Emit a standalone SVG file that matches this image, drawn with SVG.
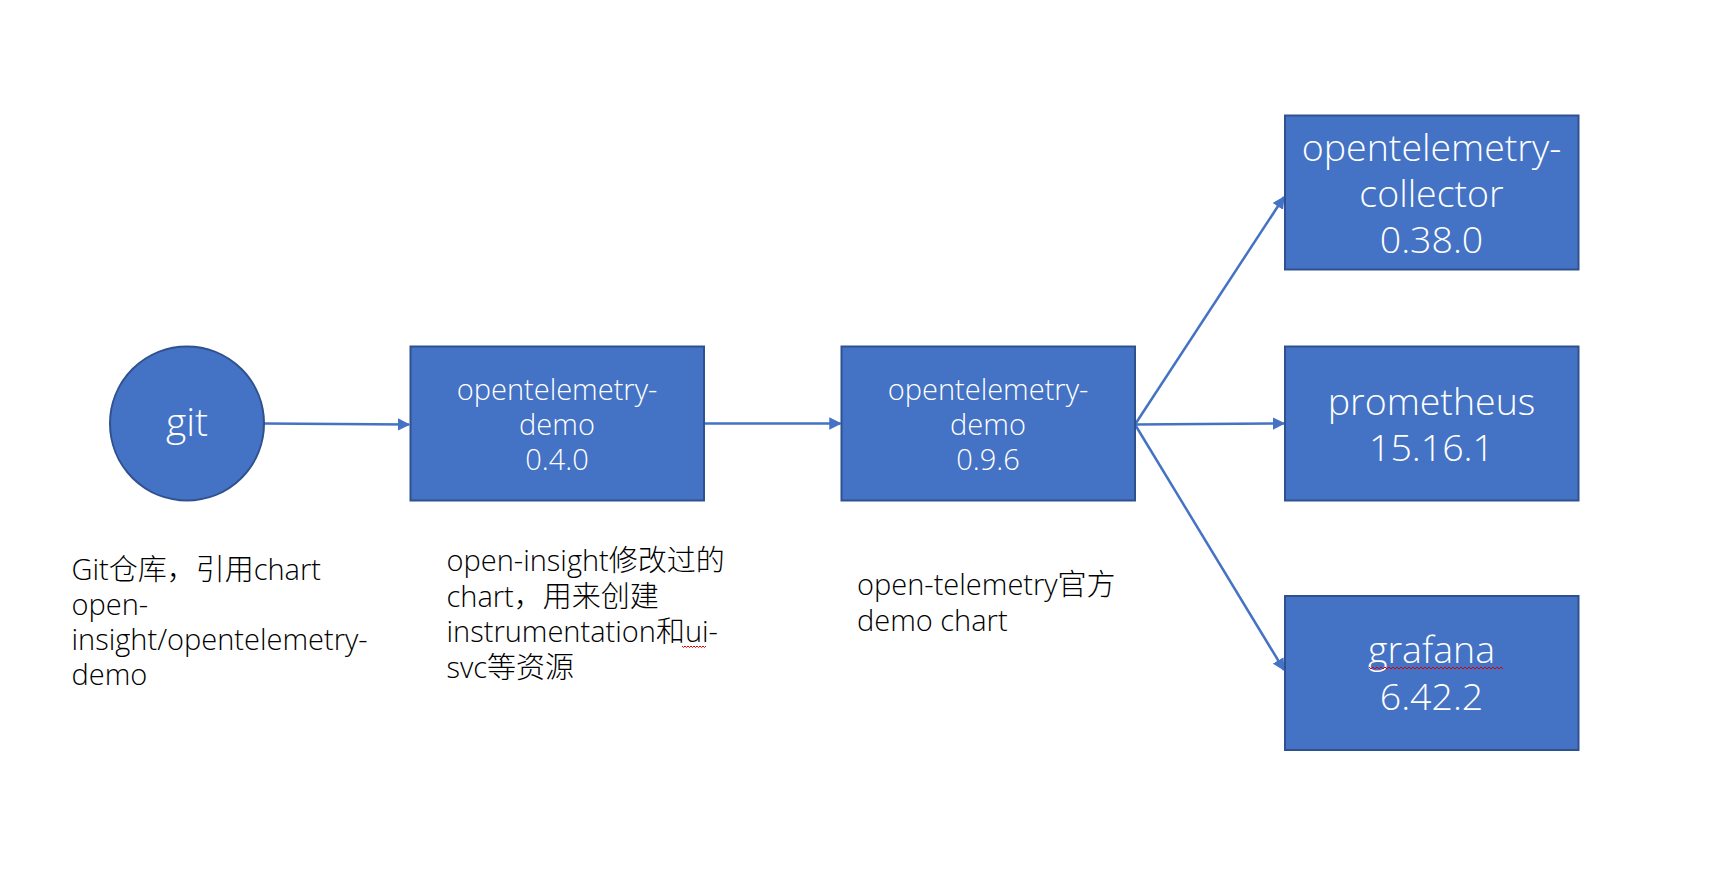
<svg xmlns="http://www.w3.org/2000/svg" width="1725" height="874" viewBox="0 0 1725 874">
<style>
.node{fill:#4472C4;stroke:#2F528F;stroke-width:2}
.lbl{fill:#ffffff;font-family:"Open Sans","Noto Sans CJK SC",sans-serif;font-weight:300;text-anchor:middle}
.s{font-size:29px}
.l{font-size:37.5px}
.cap{fill:#000000;font-family:"Open Sans","Noto Sans CJK SC",sans-serif;font-weight:300;font-size:29px}
.edge{stroke:#4472C4;stroke-width:2.5;fill:none}
.squig{stroke:#E00000;stroke-width:1;fill:none}
</style>
<defs>
<marker id="arr" viewBox="0 0 10 10" refX="9" refY="5" markerWidth="5" markerHeight="5" orient="auto" markerUnits="strokeWidth">
<path d="M0,0 L10,5 L0,10 z" fill="#4472C4"/>
</marker>
</defs>
<rect width="1725" height="874" fill="#ffffff"/>
<g id="connectors">
<line class="edge" x1="264" y1="423.5" x2="409" y2="424.5" marker-end="url(#arr)"/>
<line class="edge" x1="704" y1="423.5" x2="840.5" y2="423.5" marker-end="url(#arr)"/>
<line class="edge" x1="1135" y1="424.5" x2="1284" y2="197" marker-end="url(#arr)"/>
<line class="edge" x1="1135" y1="424.5" x2="1284" y2="423.5" marker-end="url(#arr)"/>
<line class="edge" x1="1135" y1="424.5" x2="1284" y2="670" marker-end="url(#arr)"/>
</g>
<g id="node-git">
<circle class="node" cx="187" cy="423.5" r="77"/>
<text class="lbl" x="187" y="436" style="font-size:39px">git</text>
</g>
<g id="node-demo-040">
<rect class="node" x="410.5" y="346.5" width="293.5" height="154"/>
<text class="lbl s" x="557" y="399.5">opentelemetry-</text>
<text class="lbl s" x="557" y="435">demo</text>
<text class="lbl s" x="557" y="470">0.4.0</text>
</g>
<g id="node-demo-096">
<rect class="node" x="841.5" y="346.5" width="293.5" height="154"/>
<text class="lbl s" x="988" y="399.5">opentelemetry-</text>
<text class="lbl s" x="988" y="435">demo</text>
<text class="lbl s" x="988" y="470">0.9.6</text>
</g>
<g id="node-collector">
<rect class="node" x="1285" y="115.5" width="293.5" height="154"/>
<text class="lbl l" x="1431.5" y="160.5">opentelemetry-</text>
<text class="lbl l" x="1431.5" y="207">collector</text>
<text class="lbl l" x="1431.5" y="253">0.38.0</text>
</g>
<g id="node-prometheus">
<rect class="node" x="1285" y="346.5" width="293.5" height="154"/>
<text class="lbl l" x="1431.5" y="414.5">prometheus</text>
<text class="lbl l" x="1431.5" y="461">15.16.1</text>
</g>
<g id="node-grafana">
<rect class="node" x="1285" y="596" width="293.5" height="154"/>
<text class="lbl l" x="1431.5" y="663">grafana</text>
<text class="lbl l" x="1431.5" y="709.5">6.42.2</text>
<path class="squig" d="M1369,667 l2,2 l2,-2 l2,2 l2,-2 l2,2 l2,-2 l2,2 l2,-2 l2,2 l2,-2 l2,2 l2,-2 l2,2 l2,-2 l2,2 l2,-2 l2,2 l2,-2 l2,2 l2,-2 l2,2 l2,-2 l2,2 l2,-2 l2,2 l2,-2 l2,2 l2,-2 l2,2 l2,-2 l2,2 l2,-2 l2,2 l2,-2 l2,2 l2,-2 l2,2 l2,-2 l2,2 l2,-2 l2,2 l2,-2 l2,2 l2,-2 l2,2 l2,-2 l2,2 l2,-2 l2,2 l2,-2 l2,2 l2,-2 l2,2 l2,-2 l2,2 l2,-2 l2,2 l2,-2 l2,2 l2,-2 l2,2 l2,-2 l2,2 l2,-2 l2,2 l2,-2 l2,2"/>
</g>
<g id="caption-git">
<text class="cap" x="71.5" y="579.5">Git仓库，引用chart</text>
<text class="cap" x="71.5" y="615">open-</text>
<text class="cap" x="71.5" y="650">insight/opentelemetry-</text>
<text class="cap" x="71.5" y="685">demo</text>
</g>
<g id="caption-demo-040">
<text class="cap" x="446.5" y="571">open-insight修改过的</text>
<text class="cap" x="446.5" y="606.5">chart，用来创建</text>
<text class="cap" x="446.5" y="642">instrumentation和ui-</text>
<text class="cap" x="446.5" y="677.5">svc等资源</text>
<path class="squig" d="M682,646 l1.5,1.5 l1.5,-1.5 l1.5,1.5 l1.5,-1.5 l1.5,1.5 l1.5,-1.5 l1.5,1.5 l1.5,-1.5 l1.5,1.5 l1.5,-1.5 l1.5,1.5 l1.5,-1.5 l1.5,1.5 l1.5,-1.5 l1.5,1.5 l1.5,-1.5"/>
</g>
<g id="caption-demo-096">
<text class="cap" x="857" y="595">open-telemetry官方</text>
<text class="cap" x="857" y="631">demo chart</text>
</g>
</svg>
